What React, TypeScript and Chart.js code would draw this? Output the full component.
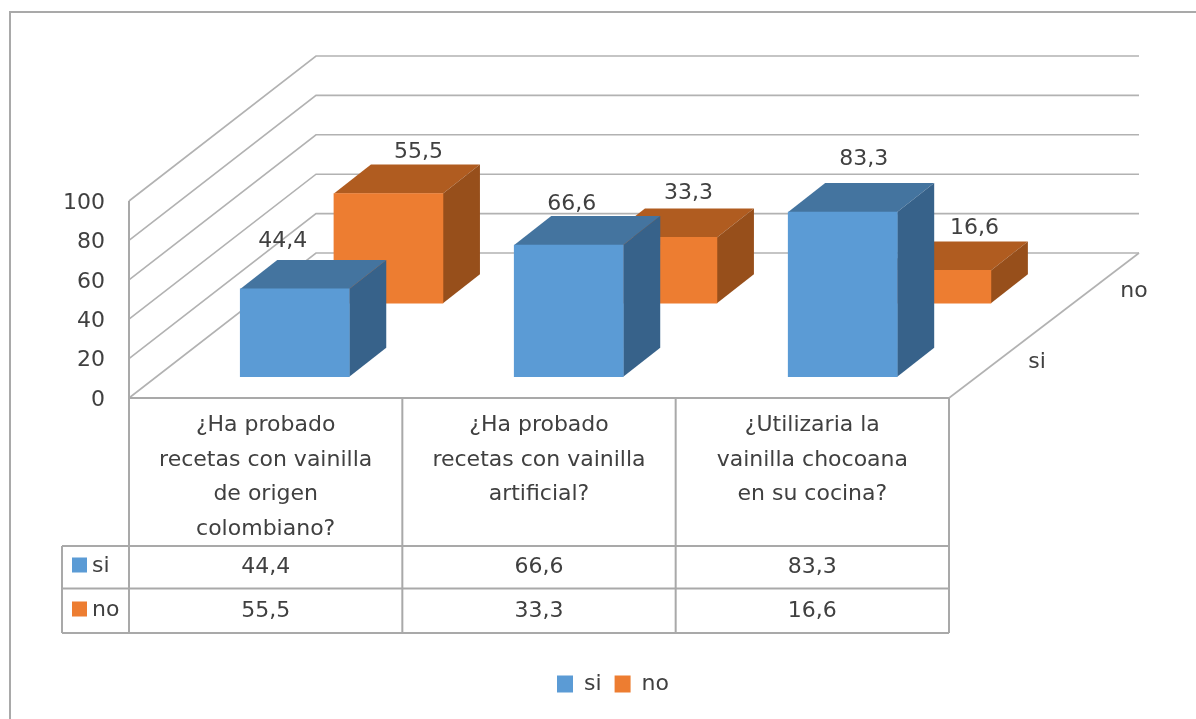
import React, { useEffect, useRef } from "react";
import { Chart, registerables } from "chart.js";

Chart.register(...registerables);

const categories = [
  ["¿Ha probado", "recetas con vainilla", "de origen", "colombiano?"],
  ["¿Ha probado", "recetas con vainilla", "artificial?"],
  ["¿Utilizaria la", "vainilla chocoana", "en su cocina?"],
];
const siValues = [44.4, 66.6, 83.3];
const noValues = [55.5, 33.3, 16.6];
const seriesNames = ["si", "no"];
const valueTicks = [0, 20, 40, 60, 80, 100];

const FONT = '"DejaVu Sans", sans-serif';
const FONT_SIZE = 22;
const TEXT = "#404040";
const LINE = "#a9a9a9";
const fmt = (v: number) => v.toFixed(1).replace(".", ",");

const SI = { front: "#5b9bd5", top: "#44749f", side: "#37628a" };
const NO = { front: "#ed7d31", top: "#b05c20", side: "#974f1b" };
const DEPTH = { dx: 37, dy: -29 };
const WALL = { dx: 187, dy: -145 };
const labelNudge = [
  [{ x: -12, y: -19 }, { x: 3, y: -12 }, { x: 21, y: -24 }],
  [{ x: 30, y: -12 }, { x: 26, y: -15 }, { x: 38, y: -13 }],
];

const text = (c: CanvasRenderingContext2D, s: string, x: number, y: number, align: CanvasTextAlign = "center") => {
  c.fillStyle = TEXT;
  c.font = `${FONT_SIZE}px ${FONT}`;
  c.textAlign = align;
  c.textBaseline = "middle";
  c.fillText(s, x, y);
};

const chart3d = {
  id: "chart3d",
  beforeDraw(chart: any) {
    const c: CanvasRenderingContext2D = chart.ctx;
    const { left, right, top, bottom } = chart.chartArea;
    const y = chart.scales.y;
    c.save();
    c.fillStyle = "#ffffff";
    c.fillRect(0, 0, chart.width, chart.height);
    c.strokeStyle = LINE;
    c.lineWidth = 2;
    c.beginPath();
    c.moveTo(10, chart.height);
    c.lineTo(10, 12);
    c.lineTo(chart.width, 12);
    c.stroke();

    c.lineWidth = 1.6;
    c.strokeStyle = "#b2b2b2";
    valueTicks.forEach((v) => {
      const p = y.getPixelForValue(v);
      c.beginPath();
      c.moveTo(left, p);
      c.lineTo(left + WALL.dx, p + WALL.dy);
      c.lineTo(right + WALL.dx + 3, p + WALL.dy);
      c.stroke();
    });
    c.beginPath();
    c.moveTo(right + WALL.dx + 3, bottom + WALL.dy);
    c.lineTo(right, bottom);
    c.stroke();

    const rowA = 546;
    const rowB = 588.5;
    const rowC = 633;
    const keyLeft = 62;
    c.strokeStyle = LINE;
    c.lineWidth = 2;
    c.beginPath();
    c.moveTo(left, top);
    c.lineTo(left, rowC);
    for (let i = 1; i <= categories.length; i++) {
      const xp = left + (i * (right - left)) / categories.length;
      c.moveTo(xp, bottom);
      c.lineTo(xp, rowC);
    }
    c.moveTo(left, bottom);
    c.lineTo(right, bottom);
    [rowA, rowB, rowC].forEach((r) => {
      c.moveTo(keyLeft, r);
      c.lineTo(right, r);
    });
    c.moveTo(keyLeft, rowA);
    c.lineTo(keyLeft, rowC);
    c.stroke();

    const x = chart.scales.x;
    [siValues, noValues].forEach((vals, r) => {
      const rowY = r === 0 ? 567 : 611;
      c.fillStyle = r === 0 ? SI.front : NO.front;
      c.fillRect(72, rowY - 9.5, 15, 15);
      text(c, seriesNames[r], 92, rowY - 1, "left");
      vals.forEach((v, i) => text(c, fmt(v), x.getPixelForValue(i), rowY));
    });
    text(c, seriesNames[1], 1134, 291);
    text(c, seriesNames[0], 1037, 362);
    c.restore();
  },
  beforeDatasetDraw(chart: any, args: any) {
    const c: CanvasRenderingContext2D = chart.ctx;
    const pal = args.index === 0 ? SI : NO;
    c.save();
    chart.getDatasetMeta(args.index).data.forEach((b: any) => {
      const l = b.x - b.width / 2;
      const r = b.x + b.width / 2;
      c.fillStyle = pal.top;
      c.beginPath();
      c.moveTo(l, b.y);
      c.lineTo(l + DEPTH.dx, b.y + DEPTH.dy);
      c.lineTo(r + DEPTH.dx, b.y + DEPTH.dy);
      c.lineTo(r, b.y);
      c.closePath();
      c.fill();
      c.fillStyle = pal.side;
      c.beginPath();
      c.moveTo(r, b.y);
      c.lineTo(r + DEPTH.dx, b.y + DEPTH.dy);
      c.lineTo(r + DEPTH.dx, b.base + DEPTH.dy);
      c.lineTo(r, b.base);
      c.closePath();
      c.fill();
    });
    c.restore();
  },
  afterDatasetsDraw(chart: any) {
    const c: CanvasRenderingContext2D = chart.ctx;
    c.save();
    [siValues, noValues].forEach((vals, d) => {
      chart.getDatasetMeta(d).data.forEach((b: any, i: number) => {
        const n = labelNudge[d][i];
        text(c, fmt(vals[i]), b.x + n.x, b.y + DEPTH.dy + n.y);
      });
    });
    c.restore();
  },
};

export default function App() {
  const ref = useRef<HTMLCanvasElement>(null);
  useEffect(() => {
    document.body.style.margin = "0";
    document.body.style.background = "#ffffff";
    const hidden = { display: false, offset: false };
    const chart = new Chart(ref.current as HTMLCanvasElement, {
      type: "bar",
      plugins: [chart3d],
      data: {
        labels: categories as any,
        datasets: [
          {
            label: seriesNames[0],
            data: siValues.map((y, x) => ({ x, y })) as any,
            backgroundColor: SI.front,
            xAxisID: "xSi",
            yAxisID: "ySi",
            barThickness: 109,
            grouped: false,
            clip: false as any,
          },
          {
            label: seriesNames[1],
            data: noValues.map((y, x) => ({ x, y })) as any,
            backgroundColor: NO.front,
            xAxisID: "xNo",
            yAxisID: "yNo",
            barThickness: 109,
            grouped: false,
            clip: false as any,
          },
        ],
      },
      options: {
        responsive: false,
        animation: false,
        layout: { padding: { left: 30, right: 0, top: 201, bottom: 14 } },
        plugins: {
          tooltip: { enabled: false },
          legend: {
            position: "bottom",
            labels: {
              boxWidth: 16,
              boxHeight: 17,
              padding: 13,
              color: TEXT,
              font: { family: FONT, size: FONT_SIZE },
            },
          },
        },
        scales: {
          x: {
            type: "category",
            offset: true,
            grid: { display: false },
            border: { display: false },
            ticks: {
              color: TEXT,
              padding: 2,
              autoSkip: false,
              maxRotation: 0,
              font: { family: FONT, size: FONT_SIZE, lineHeight: 1.57 },
            },
            afterFit: (s: any) => { s.height = 262; },
          },
          y: {
            type: "linear",
            position: "left",
            min: 0,
            max: 100,
            grid: { display: false },
            border: { display: false },
            ticks: {
              stepSize: 20,
              color: TEXT,
              padding: 16,
              labelOffset: 2,
              font: { family: FONT, size: FONT_SIZE },
            },
            afterFit: (s: any) => { s.width = 99; },
          },
          yRightGap: {
            type: "linear",
            position: "right",
            grid: { display: false },
            border: { display: false },
            ticks: { display: false },
            afterFit: (s: any) => { s.width = 247; },
          },
          xSi: { type: "linear", axis: "x", min: -0.605, max: 2.388, ...hidden },
          xNo: { type: "linear", axis: "x", min: -0.947, max: 2.046, ...hidden },
          ySi: { type: "linear", axis: "y", min: -10.77, max: 88.87, ...hidden },
          yNo: { type: "linear", axis: "y", min: -47.9, max: 51.7, ...hidden },
        },
      } as any,
    });
    return () => chart.destroy();
  }, []);
  return <canvas ref={ref} width={1196} height={719} style={{ display: "block" }} />;
}
